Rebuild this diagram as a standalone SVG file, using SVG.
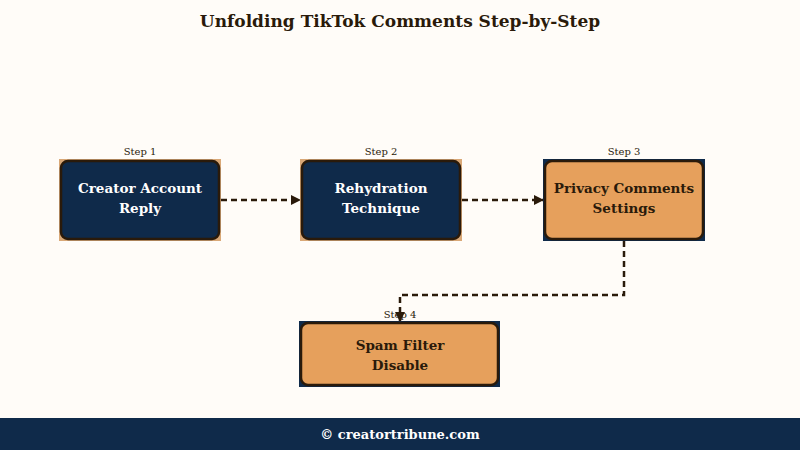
<svg xmlns="http://www.w3.org/2000/svg" width="800" height="450" viewBox="0 0 800 450">
<style>
text{font-family:"DejaVu Serif","Liberation Serif",serif}
.lbl{font-size:13.5px;font-weight:bold;text-anchor:middle}
.step{font-size:10px;text-anchor:middle;fill:#2a1a0a}
.dark{fill:#0f2a4a;stroke:#2a1a0a;stroke-width:2.5}
.orange{fill:#e6a05c;stroke:#2a1a0a;stroke-width:2.5}
.conn{fill:none;stroke:#2a1a0a;stroke-width:2.5;stroke-dasharray:6,4}
</style>
<defs><marker id="ah" markerWidth="10" markerHeight="10" refX="9" refY="5" orient="auto" markerUnits="userSpaceOnUse"><path d="M0,0L10,5L0,10Z" fill="#2a1a0a"/></marker></defs>
<rect width="800" height="450" fill="#fffcf8"/>
<text x="400" y="27" text-anchor="middle" font-size="19" font-weight="bold" fill="#2a1a0a" font-family="Liberation Serif,serif" style="font-family:'DejaVu Serif';font-size:17px">Unfolding TikTok Comments Step-by-Step</text>
<g id="connectors">
<path class="conn" d="M221,200H300" marker-end="url(#ah)"/>
<path class="conn" d="M462,200H543" marker-end="url(#ah)"/>
<path class="conn" d="M624,241V295H400V321" marker-end="url(#ah)"/>
</g>
<g id="n1"><rect x="59" y="159" width="162" height="82" fill="#d9a877"/><rect class="dark" x="61" y="161" width="158" height="78" rx="7"/><text class="step" x="140" y="155">Step 1</text><text class="lbl" fill="#fff" x="140" y="193">Creator Account</text><text class="lbl" fill="#fff" x="140" y="213">Reply</text></g>
<g id="n2"><rect x="300" y="159" width="162" height="82" fill="#d9a877"/><rect class="dark" x="302" y="161" width="158" height="78" rx="7"/><text class="step" x="381" y="155">Step 2</text><text class="lbl" fill="#fff" x="381" y="193">Rehydration</text><text class="lbl" fill="#fff" x="381" y="213">Technique</text></g>
<g id="n3"><rect x="543" y="159" width="162" height="82" fill="#0f2a4a"/><rect class="orange" x="545" y="161" width="158" height="78" rx="7"/><text class="step" x="624" y="155">Step 3</text><text class="lbl" fill="#2a1a0a" x="624" y="193">Privacy Comments</text><text class="lbl" fill="#2a1a0a" x="624" y="213">Settings</text></g>
<g id="n4"><rect x="299" y="321" width="201" height="66" fill="#0f2a4a"/><rect class="orange" x="301" y="323" width="197" height="62" rx="7"/><text class="step" x="400" y="318">Step 4</text><text class="lbl" fill="#2a1a0a" x="400" y="350">Spam Filter</text><text class="lbl" fill="#2a1a0a" x="400" y="370">Disable</text></g>
<rect x="0" y="418" width="800" height="32" fill="#0f2a4a"/>
<text x="400" y="439" text-anchor="middle" font-size="13" font-weight="bold" fill="#fff">© creatortribune.com</text>
</svg>
